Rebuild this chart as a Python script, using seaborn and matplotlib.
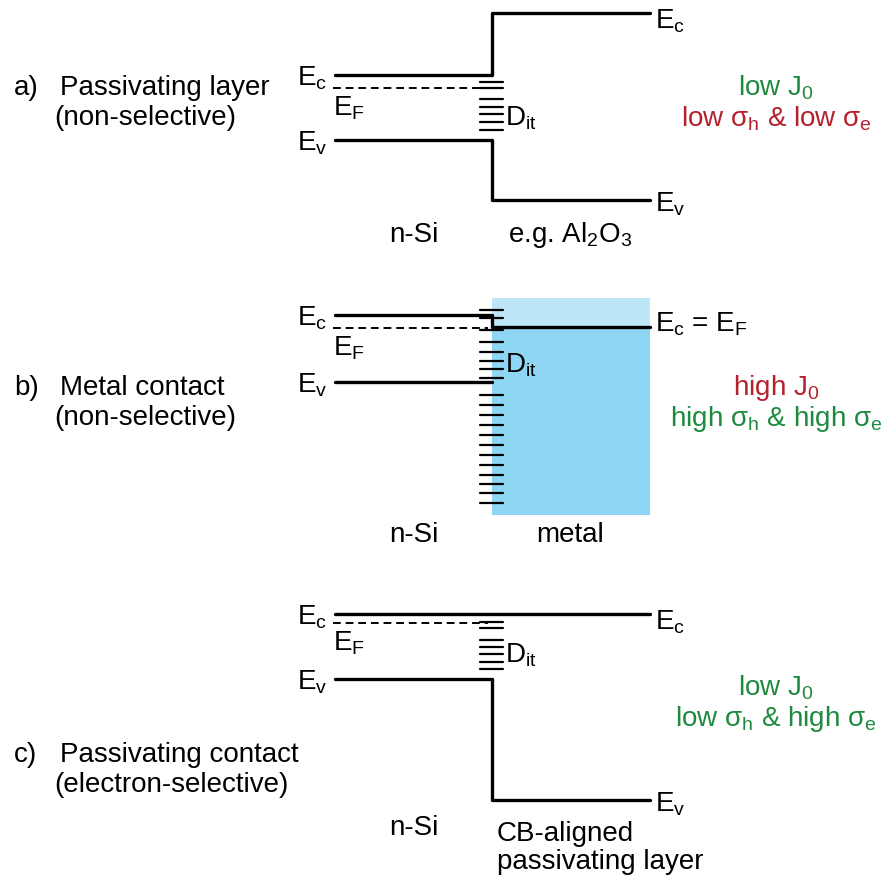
import matplotlib
matplotlib.use("Agg")
import matplotlib.pyplot as plt
import seaborn as sns
import pandas as pd
from matplotlib.patches import Rectangle

sns.set_theme(style="white")
plt.rcParams['font.family'] = ['Liberation Sans', 'DejaVu Sans']
plt.rcParams['text.color'] = 'black'
plt.rcParams['mathtext.fontset'] = 'custom'
plt.rcParams['mathtext.rm'] = 'Liberation Sans'
plt.rcParams['mathtext.it'] = 'Liberation Sans:italic'

# ---- data (levels in diagram units, y grows downward) ----
panels = ['a)', 'b)', 'c)']
x_si = [335, 492]          # silicon region
x_layer = [492, 650]       # layer / metal region
ec_si = [75, 315, 614]
ev_si = [140, 382, 679]
ef_si = [88, 328, 623]
ec_layer = [13, 327, 614]
ev_layer = [200, None, 800]
dit_levels = [
    [82, 88, 99, 107, 114, 122, 130],
    [310, 318, 330, 342, 352, 361, 369, 378, 395, 405, 415, 425, 435, 445,
     455, 465, 475, 484, 493, 503],
    [622, 628, 640, 647, 654, 662, 669],
]
panel_titles = ["Passivating layer", "Metal contact", "Passivating contact"]
panel_sub = ["(non-selective)", "(non-selective)", "(electron-selective)"]
title_y = [88, 388, 755]
layer_names = ["e.g. Al$_2$O$_3$", "metal", "CB-aligned\npassivating layer"]
jo_text = ["low J$_0$", "high J$_0$", "low J$_0$"]
sigma_text = ["low σ$_\\mathrm{h}$ & low σ$_\\mathrm{e}$",
              "high σ$_\\mathrm{h}$ & high σ$_\\mathrm{e}$",
              "low σ$_\\mathrm{h}$ & high σ$_\\mathrm{e}$"]
GREEN = "#1e8a3e"
RED = "#b5202e"
jo_color = [GREEN, RED, GREEN]
sigma_color = [RED, GREEN, GREEN]
right_y = [88, 388, 688]
metal_box = [298, 515]
dit_label_y = [118, 365, 655]

# ---- build band polylines ----
rows = []
seg = 0
for i in range(3):
    for lsi, llay in ((ec_si[i], ec_layer[i]), (ev_si[i], ev_layer[i])):
        xs = [x_si[0], x_si[1]]
        ys = [lsi, lsi]
        if llay is not None:
            xs += [x_layer[0], x_layer[1]]
            ys += [llay, llay]
        for x, y in zip(xs, ys):
            rows.append(dict(x=x, y=y, seg=seg))
        seg += 1
bands = pd.DataFrame(rows)

fig = plt.figure(figsize=(8.86, 8.77), dpi=100)
ax = fig.add_axes([0, 0, 1, 1])

# metal
ax.add_patch(Rectangle((x_layer[0], metal_box[0]), x_layer[1] - x_layer[0],
                       metal_box[1] - metal_box[0], color="#8fd6f4", zorder=0, lw=0))
ax.add_patch(Rectangle((x_layer[0], metal_box[0]), x_layer[1] - x_layer[0],
                       ec_layer[1] - metal_box[0], color="#bde6f8", zorder=0, lw=0))

sns.lineplot(data=bands, x='x', y='y', units='seg', estimator=None, sort=False,
             color='black', lw=2.4, ax=ax, legend=False)
ax.set_xlim(0, 886)
ax.set_ylim(877, 0)
ax.axis('off')

fs = 20
for i in range(3):
    # Fermi level
    ax.plot([x_si[0] - 2, x_si[1] - 4], [ef_si[i], ef_si[i]], ls=(0, (4, 2.5)),
            color='black', lw=1.4)
    # interface states
    for d in dit_levels[i]:
        ax.plot([480, 503], [d, d], color='black', lw=1.6)
    # labels on the left
    ax.text(297, ec_si[i] + 3, "E$_\\mathrm{c}$", fontsize=fs, va='center', ha='left')
    ax.text(333, ef_si[i] + 20, "E$_\\mathrm{F}$", fontsize=fs, va='center', ha='left')
    ax.text(297, ev_si[i] + 3, "E$_\\mathrm{v}$", fontsize=fs, va='center', ha='left')
    ax.text(505, dit_label_y[i], "D$_\\mathrm{it}$", fontsize=fs, va='center', ha='left')
    # labels on the right
    if i == 1:
        ax.text(655, ec_layer[i] - 3, "E$_\\mathrm{c}$ = E$_\\mathrm{F}$", fontsize=fs,
                va='center', ha='left')
    else:
        ax.text(655, ec_layer[i] + 8, "E$_\\mathrm{c}$", fontsize=fs, va='center', ha='left')
        ax.text(655, ev_layer[i] + 4, "E$_\\mathrm{v}$", fontsize=fs, va='center', ha='left')
    # titles
    ax.text(14, title_y[i], panels[i], fontsize=fs, va='center', ha='left')
    ax.text(60, title_y[i], panel_titles[i], fontsize=fs, va='center', ha='left')
    ax.text(54, title_y[i] + 30, panel_sub[i], fontsize=fs, va='center', ha='left')
    # region names
    bottom = [235, 535, 828][i]
    ax.text(414, bottom, "n-Si", fontsize=fs, va='center', ha='center')
    if i == 2:
        ax.text(497, bottom + 20, layer_names[i], fontsize=fs, va='center', ha='left',
                linespacing=1.1)
    else:
        ax.text(570, bottom, layer_names[i], fontsize=fs, va='center', ha='center')
    # J0 / sigma
    ax.text(776, right_y[i], jo_text[i], fontsize=fs, color=jo_color[i], va='center',
            ha='center')
    ax.text(776, right_y[i] + 31, sigma_text[i], fontsize=fs, color=sigma_color[i],
            va='center', ha='center')

fig.savefig("out.png", dpi=100)
